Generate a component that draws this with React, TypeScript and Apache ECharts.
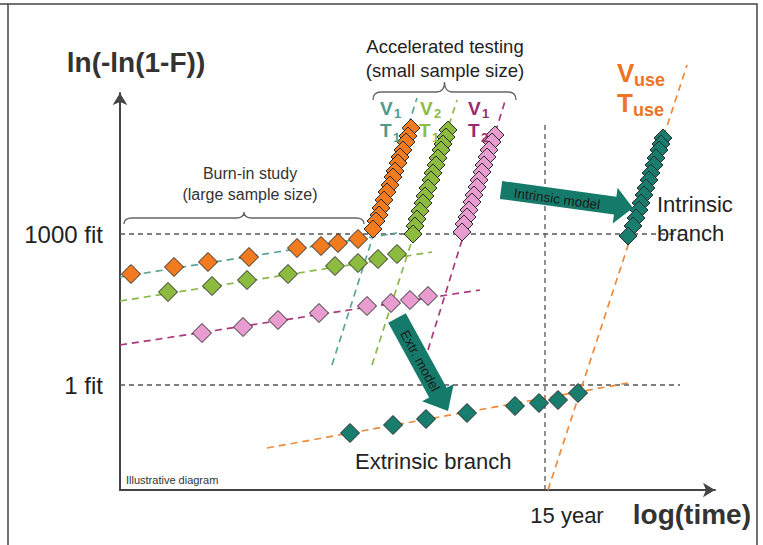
import React, { useEffect, useRef } from 'react';
import * as echarts from 'echarts';

// ---- axis extents (arbitrary log units) ----
const X_MAX = 59.5;
const Y_MAX = 39.7;

// ---- tick labels ----
const fitLevels = [25.6, 10.5];
const fitLabels = ['1000 fit', '1 fit'];
const yearMarks = [42.5];
const yearLabels = ['15 year'];

// ---- burn-in study (large sample size) ----
const burnOrange = [[1.1, 21.6], [5.4, 22.3], [8.8, 22.8], [12.9, 23.3], [17.7, 24.2], [20.1, 24.4], [21.8, 24.7], [23.8, 25.1]];
const burnGreen = [[4.8, 19.8], [9.2, 20.4], [12.7, 21.0], [16.8, 21.6], [21.5, 22.4], [23.8, 22.7], [25.8, 23.1], [27.7, 23.6]];
const burnPink = [[8.2, 15.7], [12.3, 16.3], [15.8, 17.0], [19.9, 17.7], [24.7, 18.4], [27.1, 18.7], [29.0, 19.0], [30.8, 19.4]];

// ---- accelerated testing (small sample size), listed top to bottom ----
const accelOrange = [[29.1, 36.2], [28.8, 35.4], [28.6, 34.8], [28.3, 34.0], [28.0, 33.3], [27.8, 32.7], [27.5, 31.9], [27.3, 31.3], [27.0, 30.5], [26.7, 29.8], [26.4, 29.0], [26.1, 28.2], [25.9, 27.5], [25.6, 26.9], [25.3, 26.1]];
const accelGreen = [[32.8, 36.0], [32.6, 35.3], [32.3, 34.6], [32.1, 34.0], [31.8, 33.2], [31.6, 32.5], [31.3, 31.7], [31.1, 31.0], [30.8, 30.2], [30.5, 29.4], [30.3, 28.7], [30.0, 27.9], [29.7, 27.1], [29.5, 26.4], [29.3, 25.6]];
const accelPink = [[37.5, 35.5], [37.2, 34.8], [36.9, 34.0], [36.7, 33.3], [36.4, 32.5], [36.2, 31.8], [35.9, 31.0], [35.7, 30.3], [35.4, 29.5], [35.2, 28.8], [34.9, 28.0], [34.7, 27.3], [34.4, 26.6], [34.2, 25.8]];

// ---- extrapolated to use conditions ----
const intrinsicTeal = [[54.3, 35.2], [54.1, 34.6], [53.9, 34.0], [53.6, 33.2], [53.4, 32.5], [53.1, 31.7], [52.9, 31.0], [52.6, 30.2], [52.4, 29.5], [52.1, 28.7], [51.9, 28.0], [51.6, 27.2], [51.3, 26.4], [50.8, 25.4]];
const extrinsicTeal = [[23.0, 5.7], [27.3, 6.5], [30.6, 7.1], [34.7, 7.7], [39.5, 8.4], [41.9, 8.7], [43.8, 9.0], [45.8, 9.7]];

// ---- fitted (dashed) lines ----
const fitOrangeBurn = [[0, 21.3], [27.7, 25.7]];
const fitGreenBurn = [[0, 18.9], [31.2, 23.8]];
const fitPinkBurn = [[0, 14.5], [36.0, 20.0]];
const fitTealSteep = [[21.2, 12.5], [29.7, 39.2]];
const fitGreenSteep = [[25.2, 12.5], [33.7, 39.0]];
const fitPinkSteep = [[30.8, 14.0], [38.6, 39.2]];
const fitUseSteep = [[42.8, 0], [56.7, 42.5]];
const fitUseExtr = [[14.7, 4.2], [50.8, 10.7]];
const ref1000 = [[0, 25.6], [56, 25.6]];
const ref1 = [[0, 10.5], [56, 10.5]];
const ref15y = [[42.5, 0], [42.5, 36.5]];

const C_ORANGE = '#f27a1f';
const C_GREEN = '#8dbb3f';
const C_PINK = '#e99ccf';
const C_TEAL = '#187d6c';
const FONT = '"Liberation Sans", Arial, sans-serif';

function bracePath(w: number, h1: number, h2: number) {
  const m = w / 2;
  const r = 8;
  const mid = -h1 - (h2 - h1) * 0.35;
  return `M0,0 C0,${-h1 * 0.75} ${r * 0.35},${-h1} ${r},${-h1} L${m - r},${-h1} C${m - r * 0.35},${-h1} ${m},${mid} ${m},${-h2} C${m},${mid} ${m + r * 0.35},${-h1} ${m + r},${-h1} L${w - r},${-h1} C${w - r * 0.35},${-h1} ${w},${-h1 * 0.75} ${w},0`;
}

echarts.graphic.registerShape('braceBurn', echarts.graphic.extendPath(bracePath(240, 6, 12), {}) as any);
echarts.graphic.registerShape('braceAccel', echarts.graphic.extendPath(bracePath(143, 8, 18), {}) as any);

function arrowPts(tail: number[], tip: number[], bw: number, hw: number, hl: number) {
  const dx = tip[0] - tail[0];
  const dy = tip[1] - tail[1];
  const L = Math.hypot(dx, dy);
  const ux = dx / L, uy = dy / L;
  const nx = -uy, ny = ux;
  const bx = tip[0] - ux * hl, by = tip[1] - uy * hl;
  return [
    [tail[0] + nx * bw, tail[1] + ny * bw],
    [bx + nx * bw, by + ny * bw],
    [bx + nx * hw, by + ny * hw],
    [tip[0], tip[1]],
    [bx - nx * hw, by - ny * hw],
    [bx - nx * bw, by - ny * bw],
    [tail[0] - nx * bw, tail[1] - ny * bw],
  ];
}

function txt(text: string, x: number, y: number, size: number, opts: any = {}) {
  const align = opts.align || 'center';
  return {
    type: 'text',
    x,
    y,
    rotation: opts.rotation || 0,
    z: 20,
    style: {
      text,
      font: `${opts.weight || 'normal'} ${size}px ${FONT}`,
      fill: opts.color || '#222',
      align,
      textAlign: align,
      verticalAlign: 'middle',
      textVerticalAlign: 'middle',
    },
  };
}

function scatter(name: string, data: number[][], color: string, size = 19) {
  return {
    name,
    type: 'scatter',
    data,
    symbol: 'diamond',
    symbolSize: size,
    z: 5,
    itemStyle: { color, borderColor: '#2a2a2a', borderWidth: 1, opacity: 1 },
    emphasis: { disabled: true },
  };
}

function dashed(name: string, data: number[][], color: string, width = 1.7, dash: number[] = [7, 5]) {
  return {
    name,
    type: 'line',
    data,
    symbol: 'none',
    showSymbol: false,
    clip: false,
    z: 3,
    lineStyle: { color, width, type: dash },
    emphasis: { disabled: true },
  };
}

export default function App() {
  const ref = useRef<HTMLDivElement>(null);
  useEffect(() => {
    if (!ref.current) return;
    const chart = echarts.init(ref.current, null, { renderer: 'svg' });
    const intrArrow = arrowPts([501, 190], [633, 208], 9, 18, 18);
    const extrArrow = arrowPts([397, 318], [448, 411], 10, 18, 21);
    const V = (x: number, y: number, main: string, sub: string, color: string, size: number, subSize: number, subDx: number, subDy: number) => [
      txt(main, x, y, size, { align: 'left', weight: 'bold', color }),
      txt(sub, x + subDx, y + subDy, subSize, { align: 'left', weight: 'bold', color }),
    ];
    chart.setOption({
      animation: false,
      backgroundColor: '#ffffff',
      grid: { left: 120, right: 48, top: 93, bottom: 55 },
      xAxis: {
        type: 'value',
        min: 0,
        max: X_MAX,
        axisLine: { show: true, symbol: ['none', 'arrow'], symbolSize: [11, 12], lineStyle: { color: '#444', width: 2 } },
        axisTick: { show: false },
        splitLine: { show: false },
        axisLabel: {
          customValues: yearMarks,
          formatter: (v: number) => {
            const i = yearMarks.findIndex((m) => Math.abs(m - v) < 0.01);
            return i >= 0 ? yearLabels[i] : '';
          },
          fontSize: 22,
          fontFamily: FONT,
          color: '#222',
          margin: 14,
          padding: [0, 0, 0, 44],
        },
      },
      yAxis: {
        type: 'value',
        min: 0,
        max: Y_MAX,
        axisLine: { show: true, symbol: ['none', 'arrow'], symbolSize: [11, 12], lineStyle: { color: '#444', width: 2 } },
        axisTick: { show: false },
        splitLine: { show: false },
        axisLabel: {
          customValues: fitLevels,
          formatter: (v: number) => {
            const i = fitLevels.findIndex((m) => Math.abs(m - v) < 0.01);
            return i >= 0 ? fitLabels[i] : '';
          },
          fontSize: 24,
          fontFamily: FONT,
          color: '#222',
          margin: 17,
        },
      },
      series: [
        dashed('1000 fit', ref1000, '#555', 1.3, [5, 4]),
        dashed('1 fit', ref1, '#555', 1.3, [5, 4]),
        dashed('15 year', ref15y, '#555', 1.3, [5, 4]),
        dashed('fit V1T1 burn-in', fitOrangeBurn, '#5ba597'),
        dashed('fit V2T1 burn-in', fitGreenBurn, '#8bb84a'),
        dashed('fit V1T2 burn-in', fitPinkBurn, '#a83a7d'),
        dashed('fit V1T1 accel', fitTealSteep, '#5ba597'),
        dashed('fit V2T1 accel', fitGreenSteep, '#8bb84a'),
        dashed('fit V1T2 accel', fitPinkSteep, '#a83a7d'),
        dashed('Vuse Tuse intrinsic', fitUseSteep, '#ef8a3a'),
        dashed('Vuse Tuse extrinsic', fitUseExtr, '#ef8a3a'),
        scatter('burn-in V1T1', burnOrange, C_ORANGE),
        scatter('burn-in V2T1', burnGreen, C_GREEN),
        scatter('burn-in V1T2', burnPink, C_PINK),
        scatter('accel V1T1', accelOrange, C_ORANGE, 18),
        scatter('accel V2T1', accelGreen, C_GREEN, 18),
        scatter('accel V1T2', accelPink, C_PINK, 18),
        scatter('intrinsic', intrinsicTeal, C_TEAL, 18),
        scatter('extrinsic', extrinsicTeal, C_TEAL),
      ],
      graphic: [
        { type: 'rect', z: 0, shape: { x: 8, y: 4, width: 749, height: 600 }, style: { fill: 'none', stroke: '#444', lineWidth: 1.5 } },
        { type: 'line', z: 0, shape: { x1: 0, y1: 4, x2: 8, y2: 4 }, style: { stroke: '#444', lineWidth: 1.5 } },
        txt('ln(-ln(1-F))', 136, 62, 28, { weight: 'bold', color: '#333' }),
        txt('log(time)', 751, 514, 28, { weight: 'bold', color: '#333', align: 'right' }),
        { type: 'braceBurn', x: 124, y: 224, z: 20, style: { fill: 'none', stroke: '#666', lineWidth: 1.3 } },
        { type: 'braceAccel', x: 373, y: 100, z: 20, style: { fill: 'none', stroke: '#666', lineWidth: 1.3 } },
        txt('Burn-in study', 250, 173, 16, { color: '#333' }),
        txt('(large sample size)', 250, 194, 16, { color: '#333' }),
        txt('Accelerated testing', 445, 46, 18.5, { color: '#222' }),
        txt('(small sample size)', 445, 70, 18.5, { color: '#222' }),
        ...V(380, 108, 'V', '1', '#4f9b8b', 19, 13, 14, 5),
        ...V(380, 130, 'T', '1', '#4f9b8b', 19, 13, 13, 7),
        ...V(420, 108, 'V', '2', '#8cbc46', 19, 13, 14, 5),
        ...V(419, 130, 'T', '1', '#8cbc46', 19, 13, 13, 7),
        ...V(468, 108, 'V', '1', '#9a2b6e', 19, 13, 14, 5),
        ...V(468, 130, 'T', '2', '#9a2b6e', 19, 13, 13, 7),
        ...V(617, 73, 'V', 'use', '#ec7424', 26, 18, 17, 7),
        ...V(617, 103, 'T', 'use', '#ec7424', 26, 18, 16, 7),
        { type: 'polygon', z: 15, shape: { points: intrArrow }, style: { fill: '#167a6a' } },
        { type: 'polygon', z: 15, shape: { points: extrArrow }, style: { fill: '#167a6a' } },
        txt('Intrinsic model', 557, 199, 13.5, { color: '#1b1b1b', rotation: -0.136 }),
        txt('Extr. model', 420, 361, 13.5, { color: '#1b1b1b', rotation: -1.07 }),
        txt('Intrinsic', 657, 204, 22, { align: 'left', color: '#222' }),
        txt('branch', 657, 233, 22, { align: 'left', color: '#222' }),
        txt('Extrinsic branch', 355, 461, 22, { align: 'left', color: '#222' }),
        txt('Illustrative diagram', 126, 480, 11, { align: 'left', color: '#333' }),
      ],
    });
    return () => chart.dispose();
  }, []);
  return <div ref={ref} style={{ position: 'fixed', left: 0, top: 0, width: 763, height: 545, background: '#fff' }} />;
}
